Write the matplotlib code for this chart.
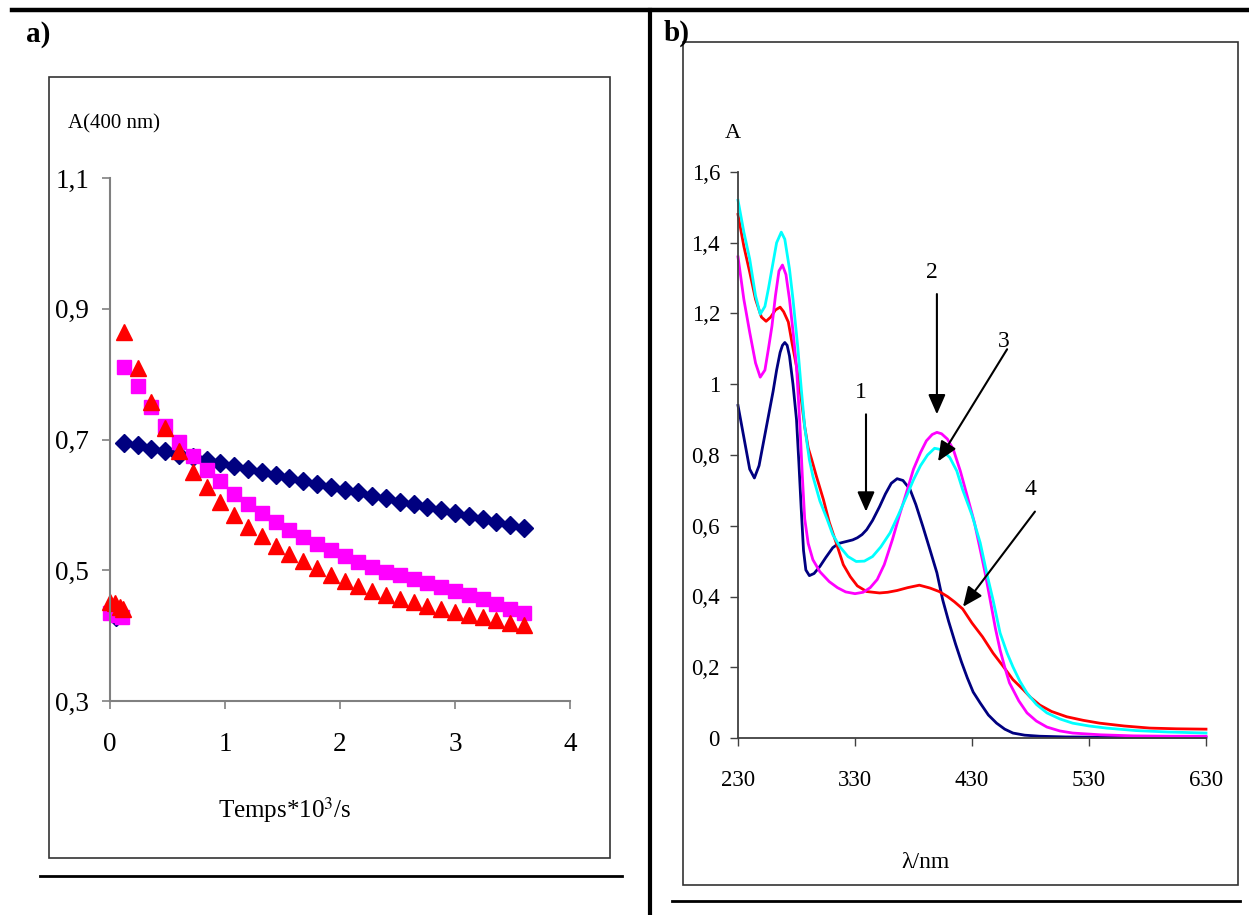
import matplotlib
matplotlib.use("Agg")
import matplotlib.pyplot as plt
from matplotlib.lines import Line2D
from matplotlib.patches import Rectangle

plt.rcParams['font.family'] = ['Liberation Serif', 'DejaVu Serif']
plt.rcParams['mathtext.fontset'] = 'stix'

W, H = 1249, 915

# ---- panel a: A(400 nm) vs time (10^3 s) ----
t_run = [0.12 * k for k in range(1, 31)]
a_navy = [0.695, 0.691, 0.686, 0.682, 0.677, 0.673, 0.668, 0.664, 0.659, 0.655,
          0.650, 0.646, 0.641, 0.637, 0.632, 0.628, 0.623, 0.619, 0.614, 0.610,
          0.605, 0.601, 0.596, 0.592, 0.587, 0.583, 0.578, 0.574, 0.569, 0.565]
a_mag = [0.811, 0.782, 0.750, 0.720, 0.696, 0.674, 0.654, 0.636, 0.617, 0.601,
         0.587, 0.574, 0.562, 0.551, 0.540, 0.531, 0.522, 0.513, 0.505, 0.498,
         0.492, 0.487, 0.480, 0.474, 0.468, 0.462, 0.456, 0.449, 0.441, 0.434]
a_red = [0.865, 0.810, 0.758, 0.717, 0.682, 0.651, 0.627, 0.605, 0.585, 0.566,
         0.552, 0.537, 0.525, 0.514, 0.503, 0.493, 0.484, 0.476, 0.469, 0.462,
         0.456, 0.451, 0.446, 0.441, 0.436, 0.432, 0.428, 0.424, 0.420, 0.416]
t_early_red = [0.0, 0.04, 0.09, 0.11]
a_early_red = [0.452, 0.450, 0.444, 0.440]
t_early_mag = [0.0, 0.06, 0.10]
a_early_mag = [0.434, 0.431, 0.428]
t_early_navy = [0.05]
a_early_navy = [0.428]

# ---- panel b: spectra ----
wl_1 = [230, 235, 240, 244, 248, 252, 256, 260, 263, 266, 268, 270, 272, 274, 277,
        280, 282, 284, 286, 288, 291, 295, 300, 305, 311, 316, 322, 328, 332, 336,
        340, 345, 351, 356, 361, 366, 371, 377, 382, 388, 394, 400, 405, 410, 416,
        421, 426, 431, 437, 444, 451, 458, 465, 475, 488, 510, 560, 630]
abs_1 = [0.94, 0.85, 0.76, 0.735, 0.77, 0.84, 0.91, 0.98, 1.04, 1.09, 1.11, 1.118,
         1.11, 1.08, 1.00, 0.90, 0.78, 0.65, 0.53, 0.475, 0.459, 0.465, 0.485, 0.51,
         0.538, 0.55, 0.555, 0.56, 0.566, 0.575, 0.589, 0.615, 0.654, 0.69, 0.72,
         0.733, 0.728, 0.703, 0.66, 0.598, 0.533, 0.467, 0.39, 0.33, 0.265, 0.215,
         0.17, 0.13, 0.099, 0.065, 0.042, 0.025, 0.014, 0.008, 0.005, 0.003, 0.002,
         0.002]

wl_2 = [230, 235, 240, 245, 249, 253, 256, 259, 262, 265, 268, 271, 274, 277, 280,
        283, 285, 287, 290, 294, 300, 308, 315, 322, 330, 337, 343, 349, 355, 362,
        368, 374, 380, 386, 391, 396, 400, 404, 409, 414, 420, 426, 432, 437, 441,
        445, 450, 454, 458, 462, 470, 477, 485, 494, 505, 516, 540, 568, 600, 630]
abs_2 = [1.36, 1.24, 1.147, 1.06, 1.02, 1.04, 1.10, 1.164, 1.25, 1.32, 1.337, 1.31,
         1.24, 1.15, 1.05, 0.88, 0.74, 0.62, 0.55, 0.504, 0.47, 0.442, 0.425, 0.413,
         0.408, 0.412, 0.425, 0.448, 0.49, 0.561, 0.63, 0.694, 0.76, 0.807, 0.84,
         0.858, 0.864, 0.86, 0.845, 0.816, 0.755, 0.683, 0.61, 0.533, 0.47, 0.40,
         0.31, 0.249, 0.20, 0.156, 0.105, 0.071, 0.048, 0.031, 0.02, 0.014, 0.009,
         0.006, 0.005, 0.005]

wl_3 = [230, 235, 240, 245, 249, 253, 256, 259, 263, 267, 270, 274, 277, 281, 284,
        287, 291, 294, 300, 306, 311, 317, 324, 331, 338, 345, 352, 360, 367, 374,
        380, 386, 392, 398, 404, 411, 417, 422, 430, 437, 443, 448, 454, 460, 465,
        471, 477, 485, 494, 505, 516, 530, 545, 570, 597, 630]
abs_3 = [1.52, 1.43, 1.354, 1.25, 1.198, 1.22, 1.27, 1.326, 1.40, 1.43, 1.41, 1.326,
         1.24, 1.108, 0.99, 0.88, 0.787, 0.74, 0.67, 0.62, 0.575, 0.541, 0.513, 0.499,
         0.50, 0.513, 0.54, 0.58, 0.63, 0.683, 0.73, 0.77, 0.80, 0.819, 0.815, 0.793,
         0.755, 0.702, 0.63, 0.552, 0.46, 0.39, 0.297, 0.24, 0.201, 0.16, 0.127,
         0.095, 0.071, 0.054, 0.042, 0.034, 0.028, 0.021, 0.017, 0.014]

wl_4 = [230, 235, 240, 245, 250, 254, 258, 262, 266, 269, 273, 276, 280, 284, 287,
        290, 293, 297, 303, 308, 315, 320, 326, 332, 340, 351, 358, 366, 375, 385,
        394, 402, 409, 415, 422, 430, 439, 448, 457, 465, 474, 480, 488, 498, 511,
        525, 539, 560, 582, 605, 630]
abs_4 = [1.48, 1.39, 1.317, 1.24, 1.19, 1.178, 1.19, 1.21, 1.218, 1.205, 1.176, 1.12,
         1.05, 0.96, 0.88, 0.82, 0.787, 0.74, 0.674, 0.61, 0.541, 0.49, 0.456, 0.43,
         0.414, 0.41, 0.412, 0.417, 0.425, 0.432, 0.424, 0.414, 0.40, 0.385, 0.365,
         0.325, 0.286, 0.24, 0.201, 0.165, 0.136, 0.115, 0.093, 0.075, 0.06, 0.05,
         0.042, 0.034, 0.028, 0.026, 0.025]


def fx(x):
    return x / W


def fy(y):
    return 1 - y / H


fig = plt.figure(figsize=(W / 100, H / 100), dpi=100)

# page frame lines
for (x0, y0, x1, y1, lw) in [(12, 10, 1249, 10, 3.2), (650, 10, 650, 915, 3.0),
                             (40, 876, 622, 876, 2.0), (672, 901, 1240, 901, 2.0)]:
    fig.add_artist(Line2D([fx(x0), fx(x1)], [fy(y0), fy(y1)], color='black', lw=lw))

# panel boxes
for (x0, y0, x1, y1) in [(49, 77, 610, 858), (683, 42, 1238, 885)]:
    fig.add_artist(Rectangle((fx(x0), fy(y1)), fx(x1 - x0), (y1 - y0) / H,
                             fill=False, edgecolor='#333333', lw=1.2))

fig.text(fx(26), fy(34), 'a)', fontsize=21, fontweight='bold', va='center')
fig.text(fx(664), fy(33), 'b)', fontsize=21, fontweight='bold', va='center')

# ---- panel a ----
axa = fig.add_axes([fx(110), fy(701), fx(460), 523 / H])
axa.plot(t_run, a_navy, 'D', color='#000080', ms=9.5, clip_on=False)
axa.plot(t_early_navy, a_early_navy, 'D', color='#000080', ms=9.5, clip_on=False)
axa.plot(t_run, a_mag, 's', color='#FF00FF', ms=10.5, clip_on=False)
axa.plot(t_early_mag, a_early_mag, 's', color='#FF00FF', ms=10.5, clip_on=False)
axa.plot(t_run, a_red, '^', color='#FF0000', ms=11.5, clip_on=False)
axa.plot(t_early_red, a_early_red, '^', color='#FF0000', ms=11.5, clip_on=False)
axa.set_xlim(0, 4)
axa.set_ylim(0.3, 1.1)
axa.set_xticks([0, 1, 2, 3, 4])
axa.set_xticklabels(['0', '1', '2', '3', '4'])
axa.set_yticks([0.3, 0.5, 0.7, 0.9, 1.1])
axa.set_yticklabels(['0,3', '0,5', '0,7', '0,9', '1,1'])
for s in ['top', 'right']:
    axa.spines[s].set_visible(False)
for s in ['left', 'bottom']:
    axa.spines[s].set_color('#808080')
    axa.spines[s].set_linewidth(1.5)
axa.tick_params(axis='both', direction='out', length=6, width=1.2, color='#808080',
                labelsize=19.5)
axa.tick_params(axis='y', pad=9)
axa.tick_params(axis='x', pad=16)
axa.patch.set_alpha(0)
fig.text(fx(68), fy(124), 'A(400 nm)', fontsize=15, va='center', ha='left')
fig.text(fx(285), fy(810), 'Temps*10$^{3}$/s', fontsize=18, va='center', ha='center')

# ---- panel b ----
axb = fig.add_axes([fx(738), fy(738), fx(468), 566 / H])
axb.plot(wl_1, abs_1, color='#000080', lw=2.0, clip_on=False)
axb.plot(wl_4, abs_4, color='#FF0000', lw=2.0, clip_on=False)
axb.plot(wl_2, abs_2, color='#FF00FF', lw=2.0, clip_on=False)
axb.plot(wl_3, abs_3, color='#00FFFF', lw=2.0, clip_on=False)
axb.set_xlim(230, 630)
axb.set_ylim(0, 1.6)
axb.set_xticks([230, 330, 430, 530, 630])
axb.set_yticks([0, 0.2, 0.4, 0.6, 0.8, 1.0, 1.2, 1.4, 1.6])
axb.set_yticklabels(['0', '0,2', '0,4', '0,6', '0,8', '1', '1,2', '1,4', '1,6'])
for s in ['top', 'right']:
    axb.spines[s].set_visible(False)
for s in ['left', 'bottom']:
    axb.spines[s].set_color('#404040')
    axb.spines[s].set_linewidth(1.3)
axb.tick_params(axis='both', direction='out', length=6, width=1.0, color='#404040',
                labelsize=16.5)
axb.tick_params(axis='y', pad=7)
axb.tick_params(axis='x', pad=17)
axb.patch.set_alpha(0)
fig.text(fx(733), fy(133), 'A', fontsize=16, va='center', ha='center')
fig.text(fx(925), fy(862), 'λ/nm', fontsize=17, va='center', ha='center')

arrows = [((339.4, 0.915), (339.4, 0.64), '1', (335, 0.977)),
          ((400, 1.255), (400, 0.915), '2', (395.8, 1.317)),
          ((460, 1.099), (401, 0.782), '3', (457, 1.12)),
          ((483.8, 0.64), (422.3, 0.371), '4', (479.6, 0.703))]
for tail, tip, lab, lpos in arrows:
    axb.annotate('', xy=tip, xytext=tail,
                 arrowprops=dict(arrowstyle='-|>,head_length=0.8,head_width=0.35',
                                 color='black', lw=1.5, mutation_scale=15,
                                 shrinkA=0, shrinkB=0))
    axb.text(lpos[0], lpos[1], lab, fontsize=17, ha='center', va='center')

fig.savefig('out.png', dpi=100)
